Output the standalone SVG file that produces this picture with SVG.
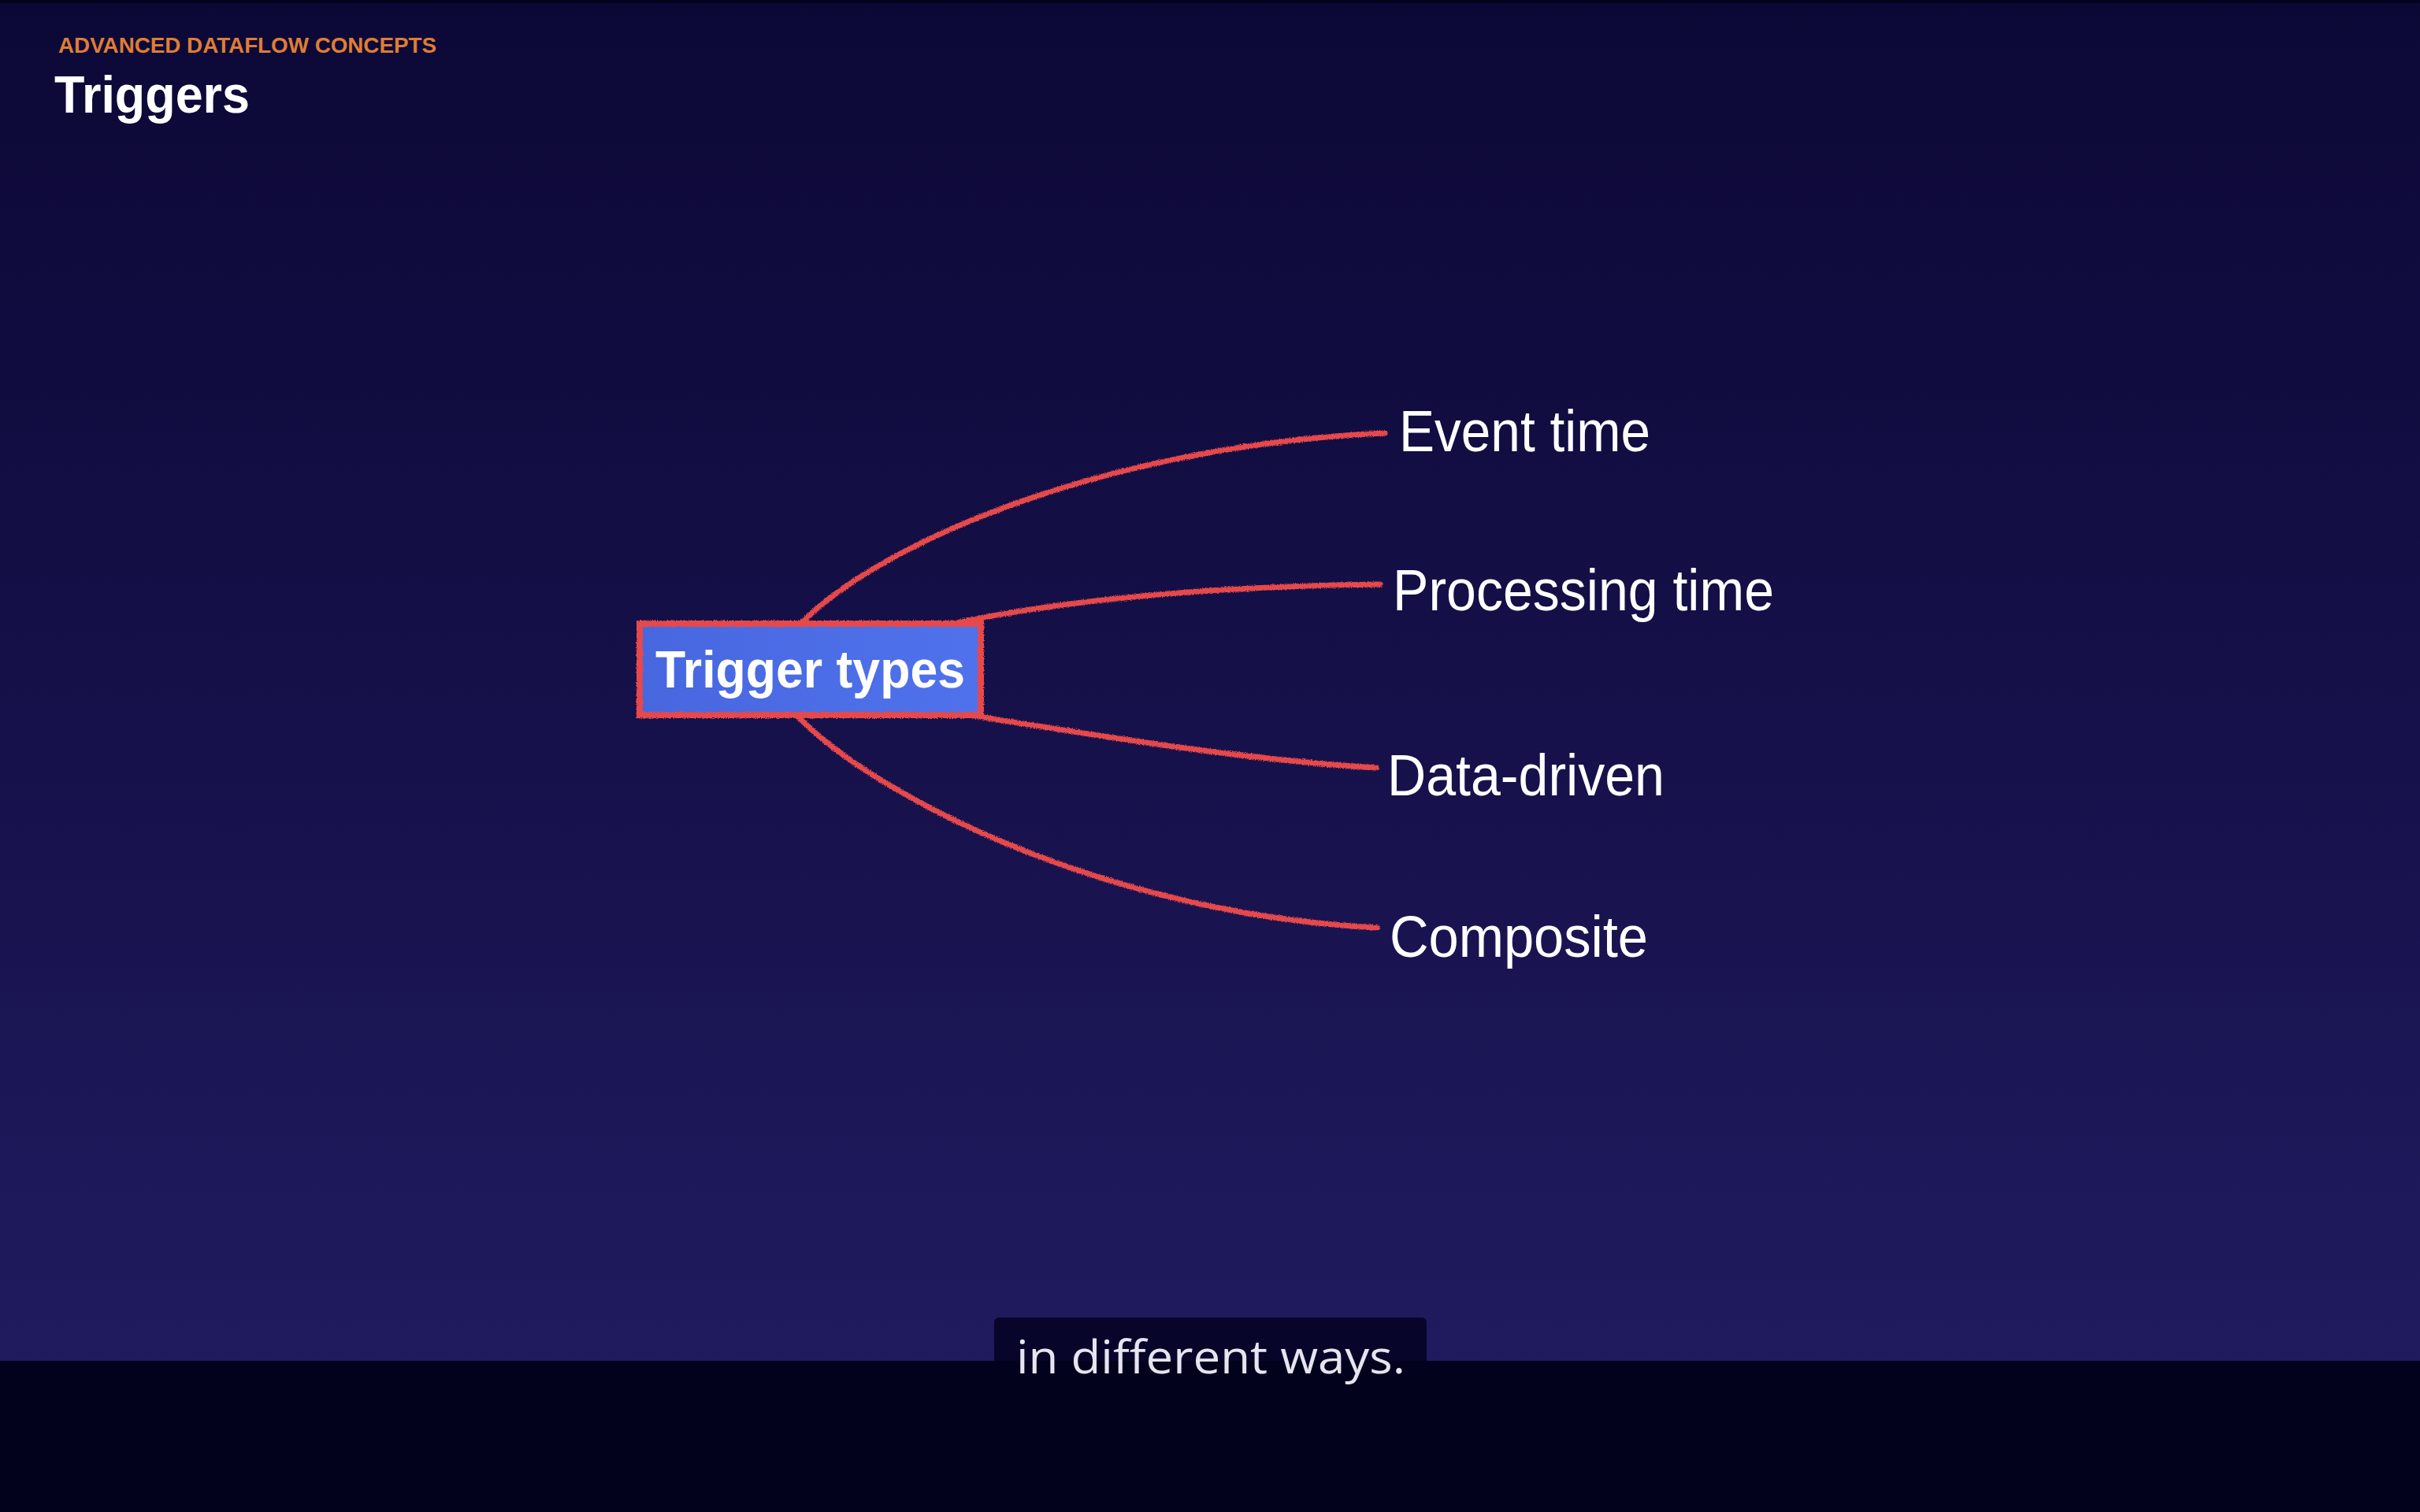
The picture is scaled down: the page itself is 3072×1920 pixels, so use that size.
<svg xmlns="http://www.w3.org/2000/svg" width="3072" height="1920" viewBox="0 0 3072 1920">
<defs>
<linearGradient id="bg" x1="0" y1="0" x2="0" y2="1728" gradientUnits="userSpaceOnUse">
<stop offset="0" stop-color="#0c0836"/>
<stop offset="0.5" stop-color="#151048"/>
<stop offset="1" stop-color="#201b5f"/>
</linearGradient>
<linearGradient id="boxfill" x1="0" y1="0" x2="1" y2="0">
<stop offset="0" stop-color="#4767df"/>
<stop offset="1" stop-color="#4f72ec"/>
</linearGradient>
<filter id="rough" filterUnits="userSpaceOnUse" x="700" y="450" width="1200" height="850">
<feTurbulence type="fractalNoise" baseFrequency="0.9" numOctaves="1" seed="3" result="n"/>
<feDisplacementMap in="SourceGraphic" in2="n" scale="5" xChannelSelector="R" yChannelSelector="G"/>
</filter>
<style>
.lbl{font-family:"Liberation Sans",Arial,sans-serif;font-size:74px;fill:#ffffff;}
.conn{fill:none;stroke:#e5484b;stroke-width:7;stroke-linecap:round;}
</style>
</defs>
<rect x="0" y="0" width="3072" height="1920" fill="url(#bg)"/>
<rect x="0" y="0" width="3072" height="4" fill="#050420"/>

<g id="header">
<text x="74" y="67" font-family="Liberation Sans,Arial,sans-serif" font-weight="bold" font-size="27" fill="#df7d35" textLength="480" lengthAdjust="spacingAndGlyphs">ADVANCED DATAFLOW CONCEPTS</text>
<text x="69" y="143" font-family="Liberation Sans,Arial,sans-serif" font-weight="bold" font-size="67" fill="#ffffff" textLength="248" lengthAdjust="spacingAndGlyphs">Triggers</text>
</g>

<g id="connectors" filter="url(#rough)">
<path class="conn" d="M1018,790 C1130,680 1420,565 1758,550"/>
<path class="conn" d="M1215,791 C1320,768 1500,745 1752,742"/>
<path class="conn" d="M1230,908 C1400,935 1580,965 1747,975"/>
<path class="conn" d="M1013,910 C1110,1010 1400,1160 1748,1178"/>
</g>

<g id="node-trigger-types">
<rect x="812" y="792" width="433" height="116" fill="url(#boxfill)"/>
<rect x="812" y="792" width="433" height="116" fill="none" stroke="#e5484b" stroke-width="8" filter="url(#rough)"/>
<text x="832" y="873" font-family="Liberation Sans,Arial,sans-serif" font-weight="bold" font-size="67" fill="#ffffff" textLength="393" lengthAdjust="spacingAndGlyphs">Trigger types</text>
</g>

<g id="node-event-time">
<text class="lbl" x="1776" y="573" textLength="319" lengthAdjust="spacingAndGlyphs">Event time</text>
</g>
<g id="node-processing-time">
<text class="lbl" x="1768" y="775" textLength="484" lengthAdjust="spacingAndGlyphs">Processing time</text>
</g>
<g id="node-data-driven">
<text class="lbl" x="1761" y="1010" textLength="352" lengthAdjust="spacingAndGlyphs">Data-driven</text>
</g>
<g id="node-composite">
<text class="lbl" x="1764" y="1215" textLength="328" lengthAdjust="spacingAndGlyphs">Composite</text>
</g>

<g id="subtitle">
<rect x="1262" y="1673" width="549" height="80" rx="6" fill="#07062a"/>
<rect x="0" y="1728" width="3072" height="192" fill="#03021c"/>
<text x="1290" y="1744" font-family="Open Sans,Liberation Sans,sans-serif" font-size="58" fill="#e6e4f0" textLength="494" lengthAdjust="spacingAndGlyphs">in different ways.</text>
</g>
</svg>
